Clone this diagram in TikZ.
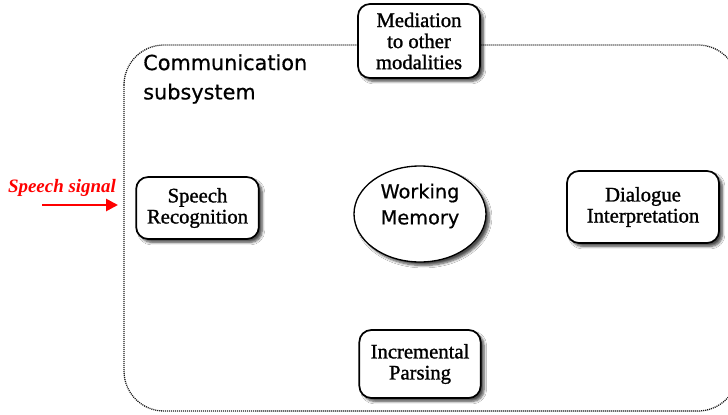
\documentclass[tikz,border=0pt]{standalone}
\usepackage{fontspec}
\setmainfont{Liberation Serif}
\newfontfamily\boxserif[FakeBold=1.2]{Liberation Serif}
\newfontfamily\labelsans[FakeBold=0.6]{DejaVu Sans}
\usetikzlibrary{shapes.geometric,shadows.blur,arrows.meta}
\begin{document}
\begin{tikzpicture}[x=0.75pt,y=-0.75pt,
  boxshadow/.style={blur shadow={shadow xshift=2.6pt,shadow yshift=-2.6pt,
    shadow blur steps=6,shadow opacity=70}},
  module/.style={draw=black,line width=1.3pt,fill=white,rounded corners=9pt,
    align=center,inner sep=0pt,
    font=\boxserif\fontsize{15.5}{15.8}\selectfont,boxshadow},
  store/.style={draw=black,line width=1pt,fill=white,ellipse,inner sep=0pt,boxshadow},
  storetext/.style={align=center,inner sep=0pt,
    font=\labelsans\fontsize{14.5}{19.5}\selectfont},
  boundary/.style={draw=black!90,line width=0.95pt,dash pattern=on 0.8pt off 0.7pt,rounded corners=30pt},
  signal/.style={draw=red,line width=2pt,-{Triangle[length=9pt,width=9pt]}}]
\useasboundingbox (0,0) rectangle (728,414);
\fill[white] (0,0) rectangle (728,414);

% subsystem boundary
\draw[boundary] (124,45) rectangle (738,411);
\node[anchor=north west,align=left,inner sep=0pt,
  font=\labelsans\fontsize{15.6}{22}\selectfont] (title) at (143,54)
  {Communication\\subsystem};

% components
\node[module,minimum width=91.5pt,minimum height=55.5pt] (med) at (419,41)
  {Mediation\\to other\\modalities};
\node[module,minimum width=92pt,minimum height=46.5pt] (sr) at (197.5,208)
  {Speech\\Recognition};
\node[store,minimum width=99pt,minimum height=72pt] (wm) at (420,214) {};
\node[storetext] (wmt) at (420,206) {Working\\Memory};
\node[module,minimum width=114pt,minimum height=54pt] (di) at (643,207)
  {Dialogue\\Interpretation};
\node[module,minimum width=91pt,minimum height=51pt] (ip) at (420,364)
  {Incremental\\Parsing};

% input signal
\node[text=red,font=\bfseries\itshape\fontsize{14.2}{15}\selectfont,inner sep=0pt]
  (sig) at (62,188) {Speech signal};
\coordinate (in0) at (42,205);
\coordinate (in1) at (118,205);
\draw[signal] (in0) -- (in1);
\end{tikzpicture}
\end{document}
